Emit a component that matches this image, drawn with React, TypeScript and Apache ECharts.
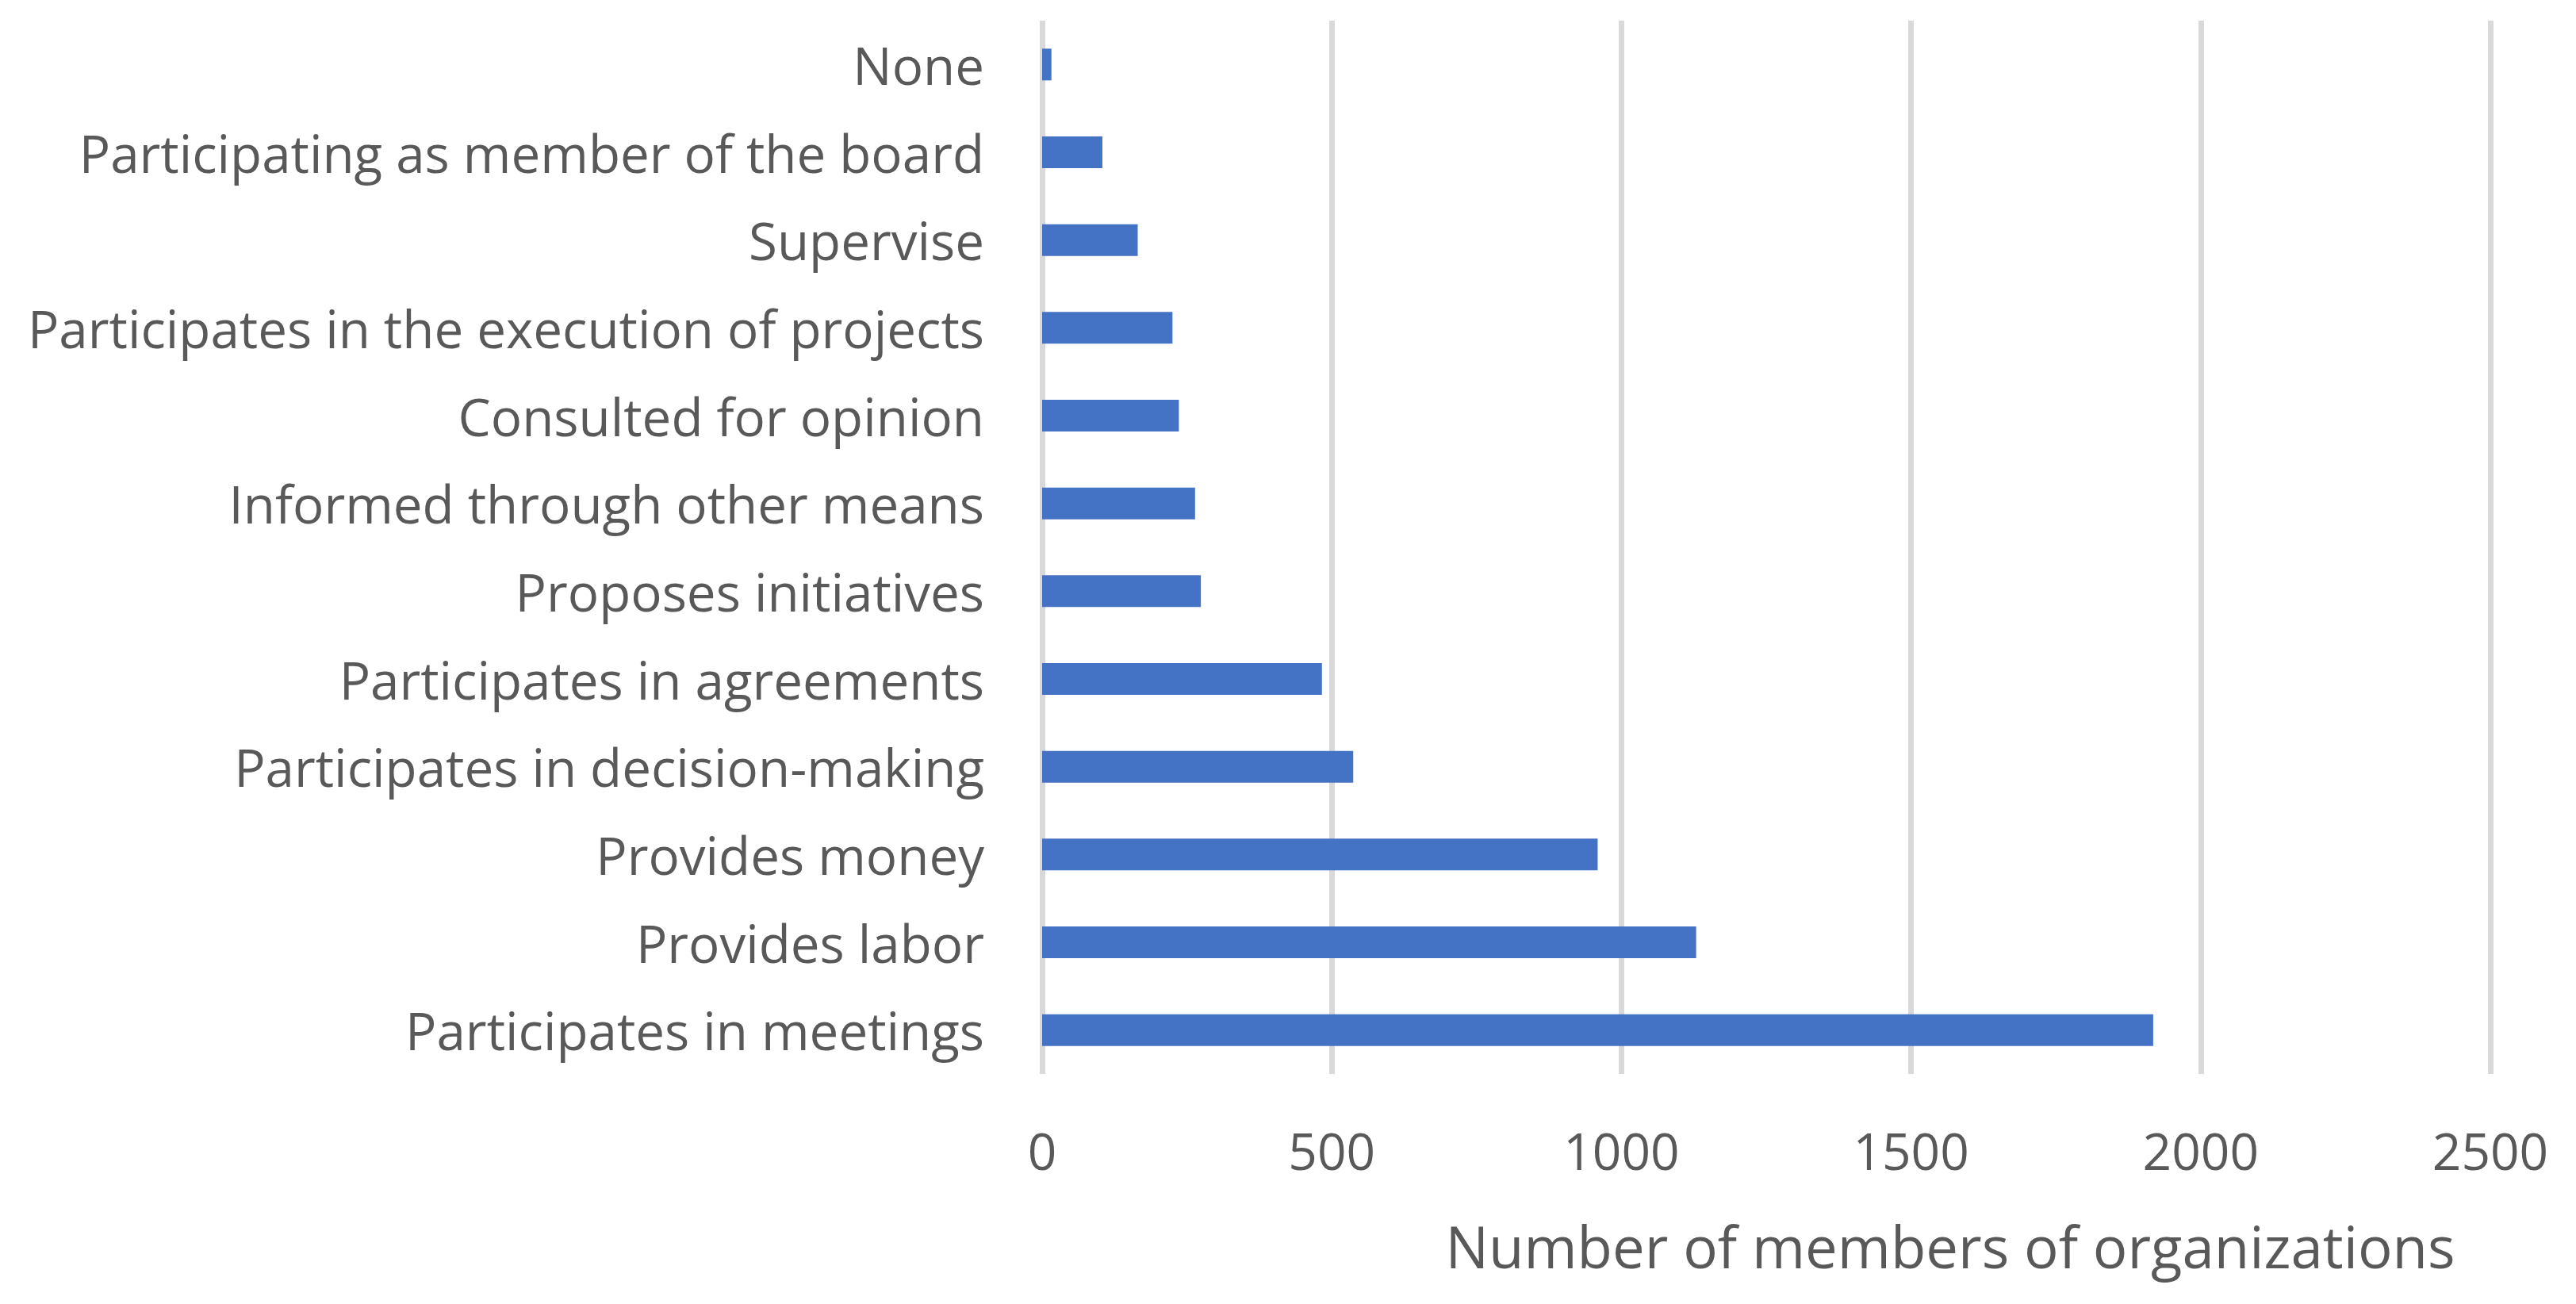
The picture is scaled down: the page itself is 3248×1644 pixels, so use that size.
import React, { useEffect, useRef } from "react";
import * as echarts from "echarts";

const categories = [
  "None",
  "Participating as member of the board",
  "Supervise",
  "Participates in the execution of projects",
  "Consulted for opinion",
  "Informed through other means",
  "Proposes initiatives",
  "Participates in agreements",
  "Participates in decision-making",
  "Provides money",
  "Provides labor",
  "Participates in meetings",
];

const values = [16, 104, 165, 225, 236, 264, 274, 483, 537, 959, 1129, 1918];

const xTicks = { min: 0, max: 2500, interval: 500 };
const axisTitle = "Number of members of organizations";

const FONT = "'Open Sans', 'Noto Sans', sans-serif";
const TEXT_COLOR = "#595959";

export default function App() {
  const ref = useRef<HTMLDivElement>(null);

  useEffect(() => {
    if (!ref.current) return;
    const chart = echarts.init(ref.current, undefined, { renderer: "svg" });
    chart.setOption({
      animation: false,
      backgroundColor: "#ffffff",
      grid: { left: 1314, right: 108, top: 26, bottom: 290, containLabel: false },
      xAxis: {
        type: "value",
        min: xTicks.min,
        max: xTicks.max,
        interval: xTicks.interval,
        axisLine: { show: false },
        axisTick: { show: false },
        axisLabel: {
          margin: 64,
          fontFamily: FONT,
          fontSize: 64,
          color: TEXT_COLOR,
          formatter: (v: number) => String(v),
        },
        splitLine: { show: true, lineStyle: { color: "#D9D9D9", width: 7 } },
      },
      yAxis: {
        type: "category",
        data: categories,
        inverse: true,
        axisLine: { show: false },
        axisTick: { show: false },
        axisLabel: {
          margin: 73,
          fontFamily: FONT,
          fontSize: 65.5,
          color: TEXT_COLOR,
        },
        splitLine: { show: false },
      },
      series: [
        {
          type: "bar",
          data: values,
          barWidth: 40,
          itemStyle: { color: "#4472C4" },
        },
      ],
      graphic: [
        {
          type: "text",
          x: 2459,
          y: 1571,
          style: {
            text: axisTitle,
            fontFamily: FONT,
            fontSize: 72.5,
            fill: TEXT_COLOR,
            align: "center",
            verticalAlign: "middle",
          },
        },
      ],
    });
    return () => chart.dispose();
  }, []);

  return (
    <div
      ref={ref}
      style={{ position: "fixed", left: 0, top: 0, width: 3248, height: 1644 }}
    />
  );
}
